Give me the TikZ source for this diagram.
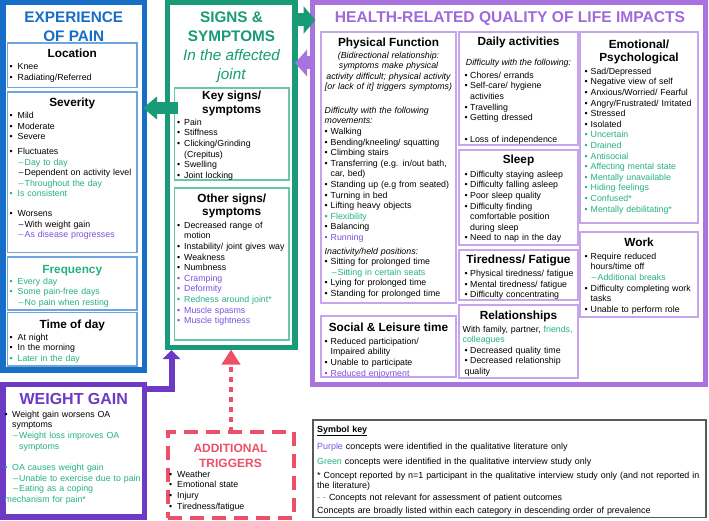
\documentclass[tikz,border=0pt]{standalone}
\usepackage{fontspec}
\setmainfont{Liberation Sans}
\usetikzlibrary{arrows.meta,calc}
\definecolor{pblue}{RGB}{22,110,198}
\definecolor{lblue}{RGB}{110,165,225}
\definecolor{sgreen}{RGB}{24,155,118}
\definecolor{tgreen}{RGB}{36,176,133}
\definecolor{lgreen}{RGB}{105,198,168}
\definecolor{hqpurple}{RGB}{168,115,222}
\definecolor{hqtext}{RGB}{160,105,220}
\definecolor{lpurple}{RGB}{198,165,236}
\definecolor{wgpurple}{RGB}{108,58,196}
\definecolor{tpurple}{RGB}{122,80,222}
\definecolor{tred}{RGB}{236,80,104}
\newlength\bulw \newlength\dashw
\setlength\bulw{7pt}\setlength\dashw{7pt}
\newcommand\bwd[1]{\setlength\bulw{#1pt}}
\newcommand\bitm[2][black]{\par\hangindent=\bulw\hangafter=1\noindent{\color{#1}\rule{0pt}{7pt}\hbox to \bulw{\textbullet\hss}#2}}
\newcommand\sitm[2][black]{\par\hangindent=\dimexpr\bulw+\dashw\relax\hangafter=1\noindent{\color{#1}\rule{0pt}{7pt}\hspace*{\bulw}\hbox to \dashw{\hspace{1pt}\textendash\hss}#2}}
\newcommand\pitm[2][black]{\par\noindent{\color{#1}\rule{0pt}{7pt}#2}}
\newcommand\vgap[1]{\par\vspace{#1pt}}
\newcommand\bx[6]{\node[#6, minimum width={(#4-#2)*1pt}, minimum height={(#5-#3)*1pt}] (#1) at (#2,#3) {};}
\tikzset{
 obox/.style={draw, line width=5.5pt, inner sep=0pt, outer sep=0pt, anchor=north west},
 ibox/.style={draw, line width=1.2pt, inner sep=0pt, outer sep=0pt, anchor=north west},
 tbox/.style={draw=tred, line width=4pt, dash pattern=on 14pt off 8pt, inner sep=0pt, outer sep=0pt, anchor=north west},
 ttl/.style={anchor=base, inner sep=0pt, font=\bfseries\fontsize{11.8}{14}\selectfont},
 big/.style={anchor=base, inner sep=0pt, font=\bfseries\fontsize{15.3}{18}\selectfont},
 lst/.style={anchor=north west, inner sep=0pt, text width=200pt, align=left, font=\fontsize{8.8}{10.6}\selectfont},
}
\begin{document}
\begin{tikzpicture}[x=1pt,y=-1pt]
\useasboundingbox (0,0) rectangle (709,521);
\fill[white] (0,0) rectangle (709,521);
% ---------- Experience of pain ----------
\bx{pain}{3}{2.5}{144.5}{370}{obox,draw=pblue}
\bx{loc}{7.5}{43}{137}{87.5}{ibox,draw=lblue}
\bx{sev}{7.5}{92}{137}{252.5}{ibox,draw=lblue}
\bx{freq}{7.5}{257}{137}{310}{ibox,draw=lblue}
\bx{tod}{7.5}{312.5}{137}{366}{ibox,draw=lblue}
\node[big, text=pblue] (pt1) at (73.75,23) {EXPERIENCE};
\node[big, text=pblue] (pt2) at (73.75,42) {OF PAIN};
\node[ttl] (loct) at (72.25,58) {Location};
\node[lst] (locl) at (9.5,59) {\bwd{8}\bitm{Knee}\bitm{Radiating/Referred}};
\node[ttl] (sevt) at (72.25,107) {Severity};
\node[lst] (sevl) at (9.5,108) {\bwd{8}\bitm{Mild}\bitm{Moderate}\bitm{Severe}\vgap{4}\bitm{Fluctuates}\sitm[tgreen]{Day to day}\sitm{Dependent on activity level}\sitm[tgreen]{Throughout the day}\bitm[tgreen]{Is consistent}\vgap{9}\bitm{Worsens}\sitm{With weight gain}\sitm[tpurple]{As disease progresses}};
\node[ttl, text=tgreen] (freqt) at (72.25,273) {Frequency};
\node[lst] (freql) at (9.5,273.5) {\bwd{8}\bitm[tgreen]{Every day}\bitm[tgreen]{Some pain-free days}\sitm[tgreen]{No pain when resting}};
\node[ttl] (todt) at (72.25,328) {Time of day};
\node[lst] (todl) at (9.5,329.5) {\bwd{8}\bitm{At night}\bitm{In the morning}\bitm[tgreen]{Later in the day}};
% ---------- Weight gain ----------
\bx{wg}{3}{384.5}{144.5}{517}{obox,draw=wgpurple}
\node[big, text=wgpurple, font=\bfseries\fontsize{16}{19}\selectfont] (wgt) at (73.75,404) {WEIGHT GAIN};
\node[lst] (wgl) at (4.5,406.5) {\bwd{7.5}\bitm{Weight gain worsens OA\newline symptoms}\sitm[tgreen]{Weight loss improves OA\newline symptoms}\vgap{11}\bitm[tgreen]{OA causes weight gain}\sitm[tgreen]{Unable to exercise due to pain}\sitm[tgreen]{Eating as a coping\newline mechanism for pain*}};
% ---------- Signs & symptoms ----------
\bx{sig}{167.5}{2.5}{295}{347.5}{obox,draw=sgreen}
\node[big, text=sgreen] (st1) at (231.5,23) {SIGNS \&};
\node[big, text=sgreen] (st2) at (231.5,42) {SYMPTOMS};
\node[big, text=sgreen, font=\itshape\fontsize{15.3}{18}\selectfont] (st3) at (231.5,61) {In the affected};
\node[big, text=sgreen, font=\itshape\fontsize{15.3}{18}\selectfont] (st4) at (231.5,80) {joint};
\bx{key}{174.5}{88}{289}{180}{ibox,draw=lgreen}
\node[ttl] (kt1) at (231.75,100) {Key signs/};
\node[ttl] (kt2) at (231.75,113.5) {symptoms};
\node[lst] (keyl) at (177,114.5) {\bwd{7}\bitm{Pain}\bitm{Stiffness}\bitm{Clicking/Grinding\newline (Crepitus)}\bitm{Swelling}\bitm{Joint locking}};
\bx{oth}{174.5}{188}{289}{340}{ibox,draw=lgreen}
\node[ttl] (ot1) at (231.75,202.5) {Other signs/};
\node[ttl] (ot2) at (231.75,216) {symptoms};
\node[lst] (othl) at (177,217.5) {\bwd{7}\bitm{Decreased range of\newline motion}\bitm{Instability/ joint gives way}\bitm{Weakness}\bitm{Numbness}\bitm[tpurple]{Cramping}\bitm[tpurple]{Deformity}\bitm[tgreen]{Redness around joint*}\bitm[tpurple]{Muscle spasms}\bitm[tpurple]{Muscle tightness}};
% ---------- HRQoL ----------
\bx{hq}{312.5}{2.5}{705}{384.5}{obox,draw=hqpurple,line width=5pt}
\node[big, text=hqtext, font=\bfseries\fontsize{15.6}{18}\selectfont] (ht) at (510,23) {HEALTH-RELATED QUALITY OF LIFE IMPACTS};
\bx{pf}{321}{32}{456}{303}{ibox,draw=lpurple}
\node[ttl] (pft) at (388.5,47) {Physical Function};
\node[anchor=north, inner sep=0pt, text width=140pt, align=center, font=\itshape\fontsize{8.8}{10.6}\selectfont] (pfi) at (388.5,51) {\rule{0pt}{7pt}(Bidirectional relationship:\\symptoms make physical\\activity difficult; physical activity\\\relax[or lack of it] triggers symptoms)};
\node[lst] (pfl) at (324.5,102.5) {\bwd{6}\pitm{\itshape Difficulty with the following\newline movements:}\bitm{Walking}\bitm{Bending/kneeling/ squatting}\bitm{Climbing stairs}\bitm{Transferring (e.g. in/out bath,\newline car, bed)}\bitm{Standing up (e.g from seated)}\bitm{Turning in bed}\bitm{Lifting heavy objects}\bitm[tgreen]{Flexibility}\bitm{Balancing}\bitm[tpurple]{Running}\vgap{3}\pitm{\itshape Inactivity/held positions:}\bitm{Sitting for prolonged time}\sitm[tgreen]{Sitting in certain seats}\bitm{Lying for prolonged time}\bitm{Standing for prolonged time}};
\bx{sl}{321}{316}{456}{377}{ibox,draw=lpurple}
\node[ttl] (slt) at (388.5,331.5) {Social \& Leisure time};
\node[lst] (sll) at (324.5,333.5) {\bwd{6}\bitm{Reduced participation/\newline Impaired ability}\bitm{Unable to participate}\bitm[tpurple]{Reduced enjoyment}};
\bx{da}{459}{32}{578}{145}{ibox,draw=lpurple}
\node[ttl] (dat) at (518.5,45.5) {Daily activities};
\node[anchor=base, inner sep=0pt, font=\itshape\fontsize{8.8}{10.6}\selectfont] (dai) at (518.5,66) {Difficulty with the following:};
\node[lst] (dal) at (464.5,67.5) {\bwd{5.5}\bitm{Chores/ errands}\bitm{Self-care/ hygiene\newline activities}\bitm{Travelling}\bitm{Getting dressed}\vgap{11}\bitm{Loss of independence}};
\bx{slp}{459}{150}{578}{245}{ibox,draw=lpurple}
\node[ttl] (slpt) at (518.5,164) {Sleep};
\node[lst] (slpl) at (464.5,166.5) {\bwd{5.5}\bitm{Difficulty staying asleep}\bitm{Difficulty falling asleep}\bitm{Poor sleep quality}\bitm{Difficulty finding\newline comfortable position\newline during sleep}\bitm{Need to nap in the day}};
\bx{tir}{459}{250}{578}{300}{ibox,draw=lpurple}
\node[ttl] (tirt) at (518.5,264) {Tiredness/ Fatigue};
\node[lst] (tirl) at (464.5,266) {\bwd{5.5}\bitm{Physical tiredness/ fatigue}\bitm{Mental tiredness/ fatigue}\bitm{Difficulty concentrating}};
\bx{rel}{459}{305}{578}{378}{ibox,draw=lpurple}
\node[ttl] (relt) at (518.5,319) {Relationships};
\node[lst] (reli) at (462.5,321.5) {\pitm{With family, partner, {\color{tgreen}friends,}\newline{\color{tgreen}colleagues}}};
\node[lst] (rell) at (464.5,342.5) {\bwd{5.5}\bitm{Decreased quality time}\bitm{Decreased relationship\newline quality}};
\bx{emo}{580}{32}{698}{223}{ibox,draw=lpurple}
\node[ttl] (emt1) at (639,49) {Emotional/};
\node[ttl] (emt2) at (639,62) {Psychological};
\node[lst] (emol) at (584.5,63.5) {\bwd{6}\bitm{Sad/Depressed}\bitm{Negative view of self}\bitm{Anxious/Worried/ Fearful}\bitm{Angry/Frustrated/ Irritated}\bitm{Stressed}\bitm{Isolated}\bitm[tgreen]{Uncertain}\bitm[tgreen]{Drained}\bitm[tgreen]{Antisocial}\bitm[tgreen]{Affecting mental state}\bitm[tgreen]{Mentally unavailable}\bitm[tgreen]{Hiding feelings}\bitm[tgreen]{Confused*}\bitm[tgreen]{Mentally debilitating*}};
\bx{wrk}{580}{232}{698}{317}{ibox,draw=lpurple}
\node[ttl] (wrkt) at (639,247) {Work};
\node[lst] (wrkl) at (584.5,248.5) {\bwd{6}\bitm{Require reduced\newline hours/time off}\sitm[tgreen]{Additional breaks}\bitm{Difficulty completing work\newline tasks}\bitm{Unable to perform role}};
% ---------- Additional triggers ----------
\bx{trig}{167.5}{432}{294}{517.5}{tbox}
\node[ttl, text=tred, font=\bfseries\fontsize{12}{14}\selectfont] (tt1) at (230.5,452) {ADDITIONAL};
\node[ttl, text=tred, font=\bfseries\fontsize{12}{14}\selectfont] (tt2) at (230.5,467) {TRIGGERS};
\node[lst] (trl) at (169,466.5) {\bwd{8}\bitm{Weather}\bitm{Emotional state}\bitm{Injury}\bitm{Tiredness/fatigue}};
% ---------- Symbol key ----------
\bx{keyb}{313}{420}{706}{517.5}{draw=black!65, line width=1.2pt, inner sep=0pt, outer sep=0pt, anchor=north west}
\node[lst, text width=395pt, font=\fontsize{8.9}{10}\selectfont] (keyt) at (317,422) {\pitm{\bfseries\underline{Symbol key}}\vgap{5.5}\pitm{{\color{tpurple}Purple} concepts were identified in the qualitative literature only}\vgap{4.5}\pitm{{\color{tgreen}Green} concepts were identified in the qualitative interview study only}\vgap{4}\pitm{* Concept reported by n=1 participant in the qualitative interview study only (and not reported in\newline the literature)}\vgap{2.5}\pitm{{\color{tred}- -} Concepts not relevant for assessment of patient outcomes}\vgap{3}\pitm{Concepts are broadly listed within each category in descending order of prevalence}};
% ---------- connectors ----------
\coordinate (ya) at (0,20);
\coordinate (yb) at (0,63);
\coordinate (yc) at (0,108);
\coordinate (yd) at (0,389);
\coordinate (xa) at (171.5,0);
\coordinate (xb) at (231,0);
\draw[sgreen, line width=13pt, -{Triangle[length=12pt,width=27pt]}] (sig.east |- ya) -- ([xshift=3pt]hq.west |- ya);
\draw[hqpurple, line width=13pt, -{Triangle[length=12pt,width=26pt]}] (hq.west |- yb) -- (sig.east |- yb);
\draw[sgreen, line width=12pt, -{Triangle[length=14pt,width=22pt]}] ([xshift=3.5pt]key.west |- yc) -- ([xshift=-1.5pt]pain.east |- yc);
\draw[wgpurple, line width=6pt, -{Triangle[length=9pt,width=17pt]}] (wg.east |- yd) -| ([yshift=-2.5pt]sig.south -| xa);
\draw[tred, line width=4pt, dash pattern=on 5pt off 5pt, -{Triangle[length=15pt,width=18pt]}] (trig.north -| xb) -- ([yshift=-2pt]sig.south -| xb);
\end{tikzpicture}
\end{document}
